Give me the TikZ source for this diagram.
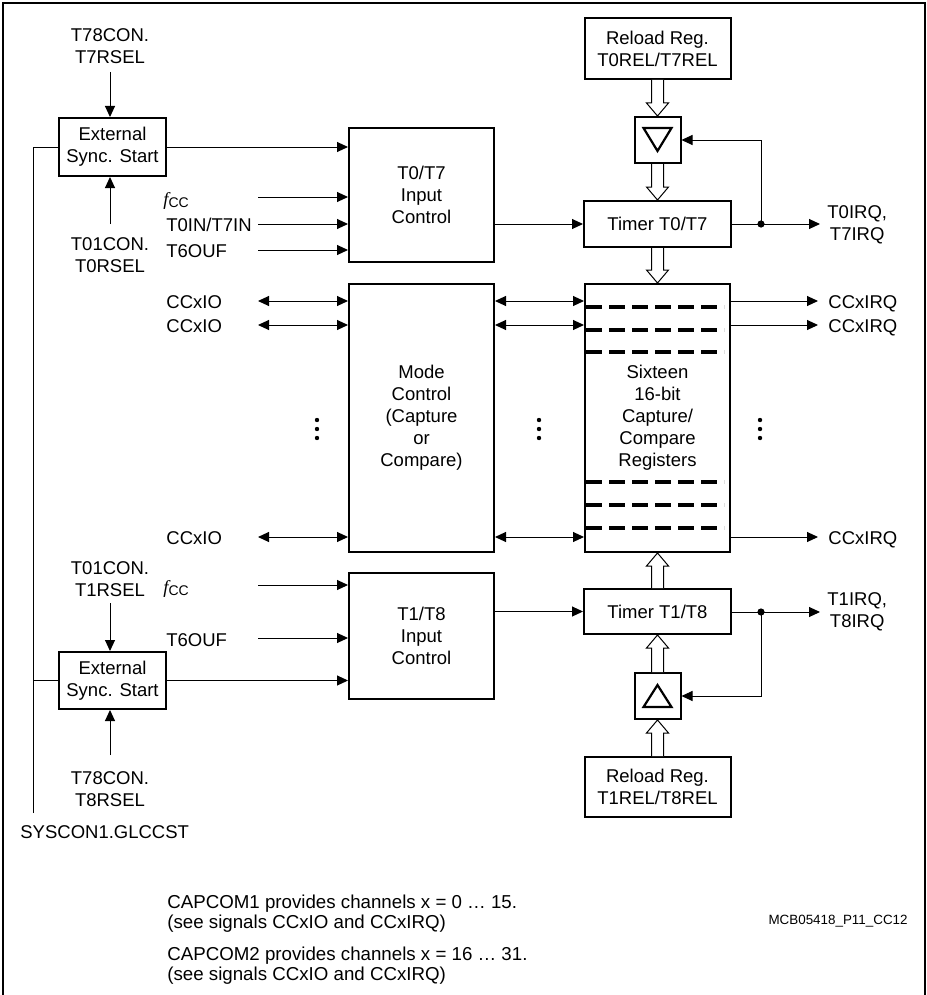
\documentclass[tikz,border=0pt]{standalone}
\usepackage{fontspec}
\setmainfont{Liberation Sans}
\newfontfamily\fccfont{Liberation Serif}
\usetikzlibrary{arrows.meta,calc}

\tikzstyle{block}=[draw,line width=1pt,inner sep=0pt,align=center]
\tikzstyle{sig}=[draw,line width=0.5pt]
\tikzstyle{arr}=[sig,-{Triangle[length=5.5pt,width=5pt]}]
\tikzstyle{biarr}=[sig,{Triangle[length=5.5pt,width=5pt]}-{Triangle[length=5.5pt,width=5pt]}]
\tikzstyle{bus}=[draw,line width=0.5pt,fill=white,line join=miter]
\tikzstyle{tri}=[draw,line width=1.1pt,line join=miter]
\tikzstyle{regline}=[line width=1.6pt,dash pattern=on 8.2pt off 3.3pt]
\tikzstyle{lbl}=[inner sep=0pt,align=center]
\tikzstyle{note}=[inner sep=0pt,align=left,font=\fontsize{9.35}{10}\selectfont]
\newcommand{\pxunit}{0.5pt}
\newcommand{\mainsize}{\fontsize{9.25}{11}\selectfont}
\newcommand{\fcc}{{\fccfont\itshape f}\raisebox{-0.3ex}{\fontsize{7}{7}\selectfont CC}}

\begin{document}
\begin{tikzpicture}[x=\pxunit, y=-\pxunit, font=\mainsize]
    \useasboundingbox (0,0) rectangle (926,995);
    \draw[line width=0.6pt] (3,995) -- (3,3) -- (925,3) -- (925,995);

    % First we draw the blocks
    \node[block, minimum width=53.5pt, minimum height=29pt] (ext1) at (112.5,147) {External\\Sync. Start};
    \node[block, minimum width=53.5pt, minimum height=28.5pt] (ext2) at (112.5,680.5) {External\\Sync. Start};
    \node[block, minimum width=72.5pt, minimum height=67pt] (ic1) at (421.5,195) {T0/T7\\Input\\Control};
    \node[block, minimum width=72.5pt, minimum height=134pt] (mode) at (421.5,418) {Mode\\Control\\(Capture\\or\\Compare)};
    \node[block, minimum width=72.5pt, minimum height=63pt] (ic2) at (421.5,636) {T1/T8\\Input\\Control};
    \node[block, minimum width=73pt, minimum height=30.5pt] (rel1) at (657.5,48.5) {Reload Reg.\\T0REL/T7REL};
    \node[block, minimum size=23pt] (dec1) at (657.5,140) {};
    \node[block, minimum width=73.5pt, minimum height=23pt] (tim1) at (657.5,224) {Timer T0/T7};
    \node[block, minimum width=72.5pt, minimum height=134pt] (ccr) at (657.5,418) {Sixteen\\16-bit\\Capture/\\Compare\\Registers};
    \node[block, minimum width=73.5pt, minimum height=22.5pt] (tim2) at (657.5,611.5) {Timer T1/T8};
    \node[block, minimum size=23pt] (dec2) at (657.5,696) {};
    \node[block, minimum width=73pt, minimum height=30pt] (rel2) at (657.5,787) {Reload Reg.\\T1REL/T8REL};

    % count direction marks and register slots
    \draw[tri] ($(dec1)+(-14,-12)$) -- ($(dec1)+(14,-12)$) -- ($(dec1)+(0,11)$) -- cycle;
    \draw[tri] ($(dec2)+(-14,11)$) -- ($(dec2)+(14,11)$) -- ($(dec2)+(0,-11)$) -- cycle;
    \foreach \y in {307,330,352,482,505,528}
        \draw[regline] (586,\y) -- (724,\y);

    % labels
    \node[lbl] (t78a) at (110,46) {T78CON.\\T7RSEL};
    \node[lbl] (t01a) at (110,255.5) {T01CON.\\T0RSEL};
    \node[lbl] (t01b) at (110,579) {T01CON.\\T1RSEL};
    \node[lbl] (t78b) at (110,789.5) {T78CON.\\T8RSEL};
    \node[lbl, anchor=base west] (sys) at (20,838) {SYSCON1.GLCCST};
    \node[lbl, anchor=base west] (lfa) at (163,205) {\fcc};
    \node[lbl, anchor=base west] (lta) at (166,231) {T0IN/T7IN};
    \node[lbl, anchor=base west] (loa) at (166,257) {T6OUF};
    \node[lbl, anchor=base west] (lfb) at (163,593) {\fcc};
    \node[lbl, anchor=base west] (lob) at (166,646) {T6OUF};
    \node[lbl, anchor=west] (lq1) at (827,225) {T0IRQ,\\T7IRQ};
    \node[lbl, anchor=west] (lq2) at (827,612) {T1IRQ,\\T8IRQ};
    \node[note, anchor=west] (cap1) at (167,913.5) {CAPCOM1 provides channels x = 0 … 15.\\(see signals CCxIO and CCxIRQ)};
    \node[note, anchor=west] (cap2) at (167,966) {CAPCOM2 provides channels x = 16 … 31.\\(see signals CCxIO and CCxIRQ)};
    \node[lbl, anchor=base east, font=\fontsize{6.7}{8}\selectfont] (mcb) at (908,924) {MCB05418\_P11\_CC12};

    % free ends of the signal lines
    \foreach \pos/\name in {{(110,72)/s1}, {(110,224)/s2}, {(110,603)/s3}, {(110,755)/s4},
                            {(258,197)/fa}, {(258,224)/ta}, {(258,250)/oa}, {(258,585)/fb}, {(258,638)/ob},
                            {(33,813)/gl}, {(761,224)/j1}, {(761,612)/j2}, {(820,224)/q1}, {(820,612)/q2}}
        \node[coordinate] (\name) at \pos {};

    % Connect blocks with signals
    \draw[arr] (s1) -- (s1 |- ext1.north);
    \draw[arr] (s2) -- (s2 |- ext1.south);
    \draw[arr] (s3) -- (s3 |- ext2.north);
    \draw[arr] (s4) -- (s4 |- ext2.south);
    \draw[sig] (gl) |- (ext1.west);
    \draw[sig] (gl |- ext2.west) -- (ext2.west);
    \foreach \src/\dst in {ext1/ic1, ext2/ic2}
        \draw[arr] (\src.east) -- (\src.east -| \dst.west);
    \foreach \src/\dst in {fa/ic1, ta/ic1, oa/ic1, fb/ic2, ob/ic2}
        \draw[arr] (\src) -- (\src -| \dst.west);
    \foreach \src/\dst in {ic1/tim1, ic2/tim2}
        \draw[arr] (\src.east |- \dst) -- (\dst.west);
    \foreach \tim/\j/\q/\dec in {tim1/j1/q1/dec1, tim2/j2/q2/dec2} {
        \draw[sig] (\tim.east |- \j) -- (\j);
        \draw[arr] (\j) -- (\q);
        \draw[arr] (\j) |- (\dec.east);
        \fill (\j) circle (1.8pt);
    }

    % capture/compare channels
    \foreach \n/\y in {1/301, 2/325, 3/537} {
        \coordinate (io\n) at (258,\y);
        \coordinate (irq\n) at (818,\y);
        \node[lbl, anchor=base west] (lio\n) at (166,\y+7) {CCxIO};
        \node[lbl, anchor=base west] (lirq\n) at (828,\y+7) {CCxIRQ};
        \draw[biarr] (io\n) -- (io\n -| mode.west);
        \draw[biarr] (io\n -| mode.east) -- (io\n -| ccr.west);
        \draw[arr] (io\n -| ccr.east) -- (irq\n);
    }
    \foreach \x in {317,539,760}
        \foreach \y in {420,429,438}
            \fill (\x,\y) circle (1.1pt);

    % hollow bus arrows
    \foreach \src/\dst in {rel1/dec1, dec1/tim1, tim1/ccr}
        \draw[bus] ($(\src.south)+(-6,0)$) -- ($(\dst.north)+(-6,-13)$) -- ($(\dst.north)+(-11,-13)$) -- (\dst.north)
            -- ($(\dst.north)+(11,-13)$) -- ($(\dst.north)+(6,-13)$) -- ($(\src.south)+(6,0)$);
    \foreach \src/\dst in {rel2/dec2, dec2/tim2, tim2/ccr}
        \draw[bus] ($(\src.north)+(-6,0)$) -- ($(\dst.south)+(-6,13)$) -- ($(\dst.south)+(-11,13)$) -- (\dst.south)
            -- ($(\dst.south)+(11,13)$) -- ($(\dst.south)+(6,13)$) -- ($(\src.north)+(6,0)$);
\end{tikzpicture}
\end{document}
